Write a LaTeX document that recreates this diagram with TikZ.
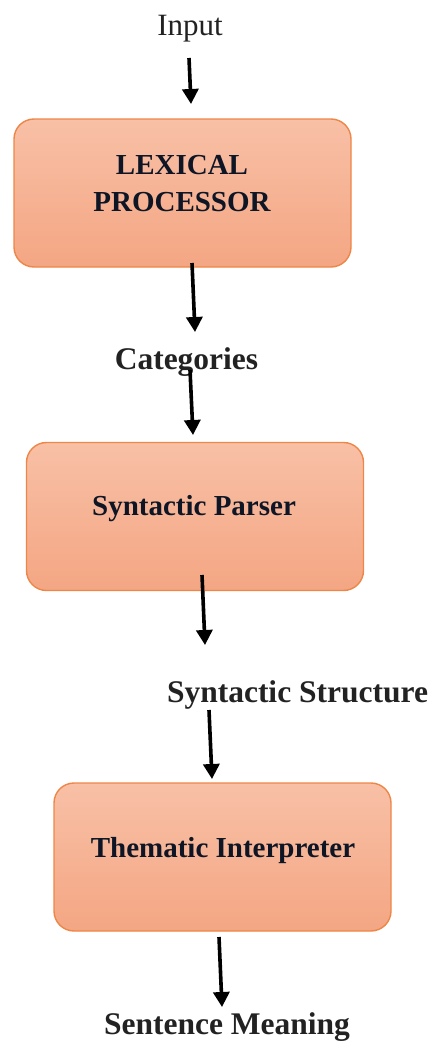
\documentclass[tikz,border=0pt]{standalone}
\usepackage{fontspec}
\setmainfont{Liberation Serif}
\usetikzlibrary{arrows.meta}

\definecolor{boxtop}{RGB}{248,192,166}
\definecolor{boxbot}{RGB}{244,166,131}
\definecolor{boxline}{RGB}{238,134,72}
\definecolor{boxink}{RGB}{14,22,38}
\definecolor{labelink}{RGB}{34,34,34}

\begin{document}
\begin{tikzpicture}[x=1pt,y=-1pt]
	\tikzset{stage/.style={draw=boxline, line width=1.4pt, rounded corners=20pt,
			top color=boxtop, bottom color=boxbot, minimum width=337pt, minimum height=148pt, inner sep=0pt},
		stagetext/.style={text=boxink, font=\fontsize{29}{37}\selectfont\bfseries, align=center, inner sep=0pt, anchor=base},
		flowlabel/.style={text=labelink, font=\fontsize{31.5}{37}\selectfont\bfseries, inner sep=0pt, anchor=base},
		flow/.style={line width=3.6pt, -{Triangle[width=16pt,length=15pt]}}}
	\useasboundingbox (0,0) rectangle (434,1041);
	% stages
	\node[stage] (lex) at (182.5,193) {};
	\node[stage] (syn) at (195,516.5) {};
	\node[stage] (them) at (222.5,857) {};
	\node[stagetext] (lexT) at (182,211) {LEXICAL\\PROCESSOR};
	\node[stagetext] (synT) at (194,515) {Syntactic Parser};
	\node[stagetext] (themT) at (223,857) {Thematic Interpreter};
	% what flows between them
	\node[text=labelink, font=\fontsize{31}{37}\selectfont, inner sep=0pt, anchor=base] (input) at (190,36) {Input};
	\node[flowlabel] (cat) at (186.5,369) {Categories};
	\node[flowlabel] (struct) at (297.5,702) {Syntactic Structure};
	\node[flowlabel] (meaning) at (227,1034) {Sentence Meaning};
	% arrow ends
	\path (189,58) coordinate (a1) (191,104) coordinate (b1);
	\path (192,263) coordinate (a2) (195,332) coordinate (b2);
	\path (190,370) coordinate (a3) (193,435) coordinate (b3);
	\path (202,575) coordinate (a4) (205,645) coordinate (b4);
	\path (209,710) coordinate (a5) (212,779) coordinate (b5);
	\path (219,937) coordinate (a6) (222,1007) coordinate (b6);
	\draw[flow] (a1) -- (b1);
	\draw[flow] (a2) -- (b2);
	\draw[flow] (a3) -- (b3);
	\draw[flow] (a4) -- (b4);
	\draw[flow] (a5) -- (b5);
	\draw[flow] (a6) -- (b6);
\end{tikzpicture}
\end{document}
